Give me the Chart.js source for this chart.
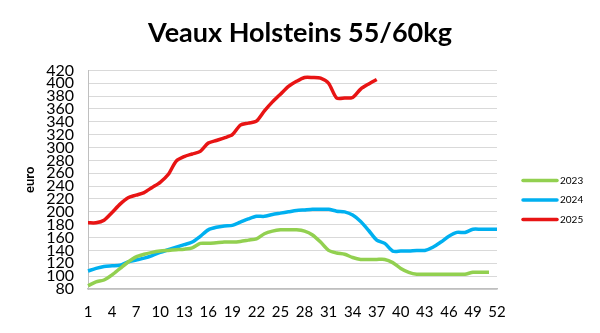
<!DOCTYPE html>
<html>
<head>
<meta charset="utf-8">
<script src="https://cdn.jsdelivr.net/npm/chart.js@4/dist/chart.umd.min.js"></script>
<style>
  html, body { margin: 0; padding: 0; background: #fff; }
  #wrap { width: 600px; height: 333px; position: relative; }
</style>
</head>
<body>
<div id="wrap"><canvas id="priceChart"></canvas></div>
<script>
// Weekly price, euro per calf
const weeks = Array.from({ length: 52 }, (_, i) => String(i + 1));

const prices2023 = [85, 91, 94, 102, 112, 122, 130, 134, 137, 139,
  140, 141, 142, 144, 151, 151, 152, 153, 153, 154,
  156, 158, 166, 170, 172, 172, 172, 170, 164, 153,
  140, 136, 134, 129, 126, 126, 126, 126, 121, 112,
  106, 103, 103, 103, 103, 103, 103, 103, 106, 106,
  106, null];

const prices2024 = [108, 112, 115, 116, 117, 122, 125, 128, 132, 137,
  141, 145, 149, 153, 162, 172, 176, 178, 179, 184,
  189, 193, 193, 196, 198, 200, 202, 203, 204, 204,
  204, 201, 200, 195, 185, 171, 156, 151, 139, 139,
  139, 140, 140, 145, 153, 162, 168, 168, 173, 173,
  173, 173];

const prices2025 = [183, 183, 187, 199, 212, 222, 226, 230, 238, 246,
  258, 279, 286, 290, 294, 307, 311, 315, 320, 335,
  338, 341, 357, 371, 383, 395, 403, 409, 409, 408,
  400, 377, 377, 378, 391, 399, 406];

const seriesNames = ['2023', '2024', '2025'];
const seriesColors = ['#92d050', '#00b0f0', '#e81414'];

const yMin = 80;
const yMax = 420;
const yStep = 20;

const FONT = 'Lato, "Open Sans", sans-serif';

// Legend drawn as short line samples to the right of the plot
const lineLegend = {
  id: 'lineLegend',
  afterDraw(chart) {
    const ctx = chart.ctx;
    const area = chart.chartArea;
    const x0 = area.right + 26;
    ctx.save();
    chart.data.datasets.forEach((ds, i) => {
      const y = area.top + 110 + i * 19.5;
      ctx.strokeStyle = ds.borderColor;
      ctx.lineWidth = 3.5;
      ctx.lineCap = 'round';
      ctx.beginPath();
      ctx.moveTo(x0, y);
      ctx.lineTo(x0 + 34, y);
      ctx.stroke();
      ctx.fillStyle = '#000';
      ctx.font = '10px ' + FONT;
      ctx.textBaseline = 'middle';
      ctx.textAlign = 'left';
      ctx.fillText(ds.label, x0 + 37, y);
    });
    ctx.restore();
  }
};

const datasets = [prices2023, prices2024, prices2025].map((data, i) => ({
  label: seriesNames[i],
  data: data,
  borderColor: seriesColors[i],
  backgroundColor: seriesColors[i],
  borderWidth: 3.5,
  pointRadius: 0,
  tension: 0.25,
  spanGaps: false
}));

new Chart(document.getElementById('priceChart'), {
  type: 'line',
  data: { labels: weeks, datasets: datasets },
  plugins: [lineLegend],
  options: {
    responsive: true,
    maintainAspectRatio: false,
    animation: false,
    layout: { padding: 0 },
    plugins: {
      legend: { display: false },
      tooltip: { enabled: false },
      title: {
        display: true,
        text: 'Veaux Holsteins 55/60kg',
        color: '#000',
        font: { family: FONT, size: 27, weight: 'bold' },
        padding: { top: 17, bottom: 21 }
      }
    },
    scales: {
      x: {
        offset: false,
        grid: { display: false, drawTicks: false },
        border: { color: '#bfbfbf', width: 1.5 },
        ticks: {
          autoSkip: false,
          maxRotation: 0,
          padding: 14,
          color: '#000',
          font: { family: FONT, size: 15 },
          callback: function(value, index) {
            return index % 3 === 0 ? this.getLabelForValue(value) : '';
          }
        },
        afterFit(scale) { scale.height = 44; }
      },
      y: {
        min: yMin,
        max: yMax,
        grid: { color: '#d9d9d9', lineWidth: 1, drawTicks: false },
        border: { color: '#bfbfbf', width: 1 },
        ticks: {
          stepSize: yStep,
          autoSkip: false,
          padding: 14,
          color: '#000',
          font: { family: FONT, size: 16 }
        },
        title: {
          display: true,
          text: 'euro',
          color: '#000',
          font: { family: FONT, size: 13, weight: 'bold' },
          padding: { top: 22, bottom: 0 }
        },
        afterFit(scale) { scale.width = 88; }
      },
      // empty right-hand axis that keeps room for the legend
      legendSpace: {
        type: 'linear',
        position: 'right',
        display: true,
        grid: { display: false, drawTicks: false },
        border: { display: false },
        ticks: { display: false },
        afterFit(scale) { scale.width = 103; }
      }
    }
  }
});
</script>
</body>
</html>
